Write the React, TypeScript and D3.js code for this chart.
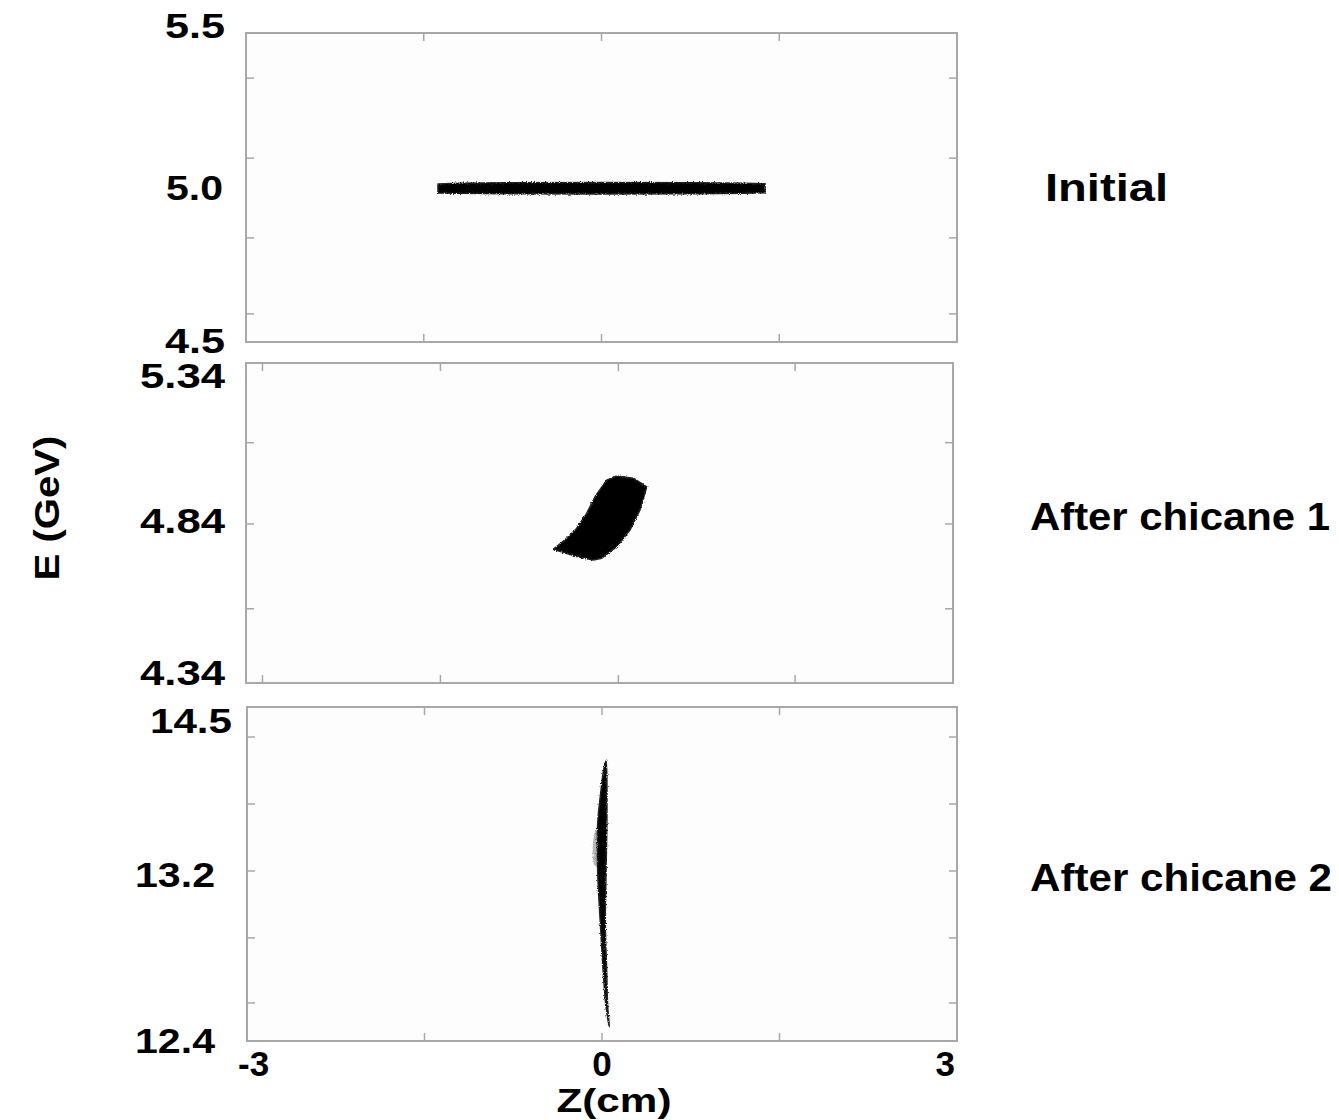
import React from "react";
import * as d3 from "d3";

// ---------- data ----------
const zDomain: [number, number] = [-3, 3];
const zLabelValues = [-3, 0, 3];
const zLabelText = ["-3", "0", "3"];
const panelTitles = ["Initial", "After chicane 1", "After chicane 2"];

// Panel 1 (Initial)
const eDomain1 = [4.5, 5.5];
const eLabelValues1 = [5.5, 5.0, 4.5];
const eLabelText1 = ["5.5", "5.0", "4.5"];
const eTicks1 = [5.354, 5.095, 4.837, 4.591];
const zTicks1 = [-1.5, 0, 1.5];
const beam1: [number, number][] = [
  [-1.38, 5.011], [-1.2, 5.014], [-0.8, 5.015], [0, 5.016], [0.8, 5.015], [1.2, 5.014], [1.38, 5.012],
  [1.38, 4.983], [1.2, 4.981], [0.8, 4.98], [0, 4.979], [-0.8, 4.98], [-1.2, 4.981], [-1.38, 4.982],
];

// Panel 2 (After chicane 1)
const eDomain2 = [4.34, 5.34];
const eLabelValues2 = [5.34, 4.84, 4.34];
const eLabelText2 = ["5.34", "4.84", "4.34"];
const eTicks2 = [5.091, 4.837, 4.572];
const zTicks2 = [-2.86, -1.35, 0.16, 1.66];
const beam2: [number, number][] = [
  [-0.392, 4.758], [-0.208, 4.737], [-0.053, 4.724], [0.019, 4.73], [0.146, 4.766], [0.259, 4.818],
  [0.344, 4.881], [0.401, 4.953], [0.287, 4.98], [0.146, 4.987], [0.061, 4.974], [-0.038, 4.922],
  [-0.109, 4.87], [-0.194, 4.823], [-0.293, 4.787],
];

// Panel 3 (After chicane 2) - piecewise axis as labelled
const eDomain3 = [12.4, 13.2, 14.5];
const eLabelValues3 = [14.5, 13.2, 12.4];
const eLabelText3 = ["14.5", "13.2", "12.4"];
const eTicks3 = [14.262, 13.731, 13.2, 12.885, 12.579];
const zTicks3 = [-3, -1.5, 0, 1.5, 3];
const beam3: [number, number][] = [
  [0.034, 14.074], [0.042, 13.71], [0.034, 13.191], [0.028, 12.955], [0.04, 12.72], [0.048, 12.561],
  [0.062, 12.467], [0.034, 12.561], [0.011, 12.72], [-0.014, 12.955], [-0.036, 13.191], [-0.036, 13.58],
  [-0.008, 13.842], [0.014, 14.001],
];
const halo3: [number, number][] = [
  [-0.03, 13.525], [-0.062, 13.5], [-0.064, 13.25], [-0.03, 13.232],
];

// ---------- layout ----------
const W = 1339;
const H = 1120;
const FONT = "'Liberation Sans', Arial, Helvetica, sans-serif";
const FRAME = "#a8a8a8";

type Panel = {
  box: { x0: number; x1: number; y0: number; y1: number };
  midY?: number;
  eDomain: number[];
  eLabelValues: number[];
  eLabelText: string[];
  eTicks: number[];
  zTicks: number[];
  beam: [number, number][];
  halo?: [number, number][];
  labelX: number[];
  labelDy: number[];
  labelLen: number[];
  title: { x: number; y: number; len: number };
  curve: any;
};

const panels: Panel[] = [
  {
    box: { x0: 246, x1: 957, y0: 33, y1: 342 },
    eDomain: eDomain1, eLabelValues: eLabelValues1, eLabelText: eLabelText1,
    eTicks: eTicks1, zTicks: zTicks1, beam: beam1,
    labelX: [225, 223, 225], labelDy: [-8, 0, -2], labelLen: [60, 57, 60],
    title: { x: 1045, y: 201, len: 123 },
    curve: d3.curveLinearClosed,
  },
  {
    box: { x0: 246, x1: 953, y0: 363, y1: 683 },
    eDomain: eDomain2, eLabelValues: eLabelValues2, eLabelText: eLabelText2,
    eTicks: eTicks2, zTicks: zTicks2, beam: beam2,
    labelX: [225, 225, 225], labelDy: [12, -3, -11], labelLen: [85, 85, 85],
    title: { x: 1030, y: 530, len: 300 },
    curve: d3.curveLinearClosed,
  },
  {
    box: { x0: 247, x1: 957, y0: 707, y1: 1041 },
    midY: 871,
    eDomain: eDomain3, eLabelValues: eLabelValues3, eLabelText: eLabelText3,
    eTicks: eTicks3, zTicks: zTicks3, beam: beam3, halo: halo3,
    labelX: [232, 215, 215], labelDy: [13, 3, -1], labelLen: [82, 80, 80],
    title: { x: 1030, y: 891, len: 302 },
    curve: d3.curveCatmullRomClosed,
  },
];

const LABEL_FS = 35;

function PanelView({ p, idx }: { p: Panel; idx: number }) {
  const { x0, x1, y0, y1 } = p.box;
  const x = d3.scaleLinear().domain(zDomain).range([x0, x1]);
  const yRange = p.eDomain.length === 3 ? [y1, p.midY as number, y0] : [y1, y0];
  const y = d3.scaleLinear().domain(p.eDomain).range(yRange);
  const line = d3
    .line<[number, number]>()
    .x((d) => x(d[0]))
    .y((d) => y(d[1]))
    .curve(p.curve);
  const tickLen = 8;
  return (
    <g>
      <rect x={x0} y={y0} width={x1 - x0} height={y1 - y0} fill="#fdfdfd" stroke={FRAME} strokeWidth={2} />
      {p.eTicks.map((t, i) => (
        <g key={"et" + i} stroke={FRAME} strokeWidth={1.5}>
          <line x1={x0} x2={x0 + tickLen} y1={y(t)} y2={y(t)} />
          <line x1={x1} x2={x1 - tickLen} y1={y(t)} y2={y(t)} />
        </g>
      ))}
      {p.zTicks.map((t, i) => (
        <g key={"zt" + i} stroke={FRAME} strokeWidth={1.5}>
          <line x1={x(t)} x2={x(t)} y1={y0} y2={y0 + tickLen} />
          <line x1={x(t)} x2={x(t)} y1={y1} y2={y1 - tickLen} />
        </g>
      ))}
      {p.halo && (
        <path d={line(p.halo) || ""} fill="#9a9a9a" opacity={0.7} filter="url(#fuzz)" />
      )}
      <path d={line(p.beam) || ""} fill="#000" stroke="#222" strokeWidth={1.5} strokeLinejoin="round" filter="url(#fuzz)" />
      {p.eLabelValues.map((v, i) => (
        <text
          key={"el" + i}
          x={p.labelX[i]}
          y={y(v) + p.labelDy[i] + LABEL_FS * 0.36}
          textAnchor="end"
          fontFamily={FONT}
          fontWeight="bold"
          fontSize={LABEL_FS}
          textLength={p.labelLen[i]}
          lengthAdjust="spacingAndGlyphs"
        >
          {p.eLabelText[i]}
        </text>
      ))}
      <text
        x={p.title.x}
        y={p.title.y}
        fontFamily={FONT}
        fontWeight="bold"
        fontSize={38}
        textLength={p.title.len}
        lengthAdjust="spacingAndGlyphs"
      >
        {panelTitles[idx]}
      </text>
    </g>
  );
}

export default function App() {
  const bottom = panels[2];
  const xb = d3.scaleLinear().domain(zDomain).range([bottom.box.x0, bottom.box.x1]);
  const anchors = ["start", "middle", "end"];
  const dxs = [-9, 0, -2];
  return (
    <div style={{ position: "absolute", left: 0, top: 0, background: "#fff" }}>
      <svg width={W} height={H} viewBox={`0 0 ${W} ${H}`} style={{ display: "block" }}>
        <defs>
          <filter id="fuzz" x="-20%" y="-20%" width="140%" height="140%">
            <feTurbulence type="fractalNoise" baseFrequency="0.9" numOctaves="2" seed="3" result="n" />
            <feDisplacementMap in="SourceGraphic" in2="n" scale="3" xChannelSelector="R" yChannelSelector="G" />
          </filter>
        </defs>
        <rect x={0} y={0} width={W} height={H} fill="#fff" />
        {panels.map((p, i) => (
          <PanelView key={i} p={p} idx={i} />
        ))}
        {zLabelValues.map((v, i) => (
          <text
            key={"zl" + i}
            x={xb(v) + dxs[i]}
            y={1076}
            textAnchor={anchors[i] as any}
            fontFamily={FONT}
            fontWeight="bold"
            fontSize={35}
          >
            {zLabelText[i]}
          </text>
        ))}
        <text
          x={614}
          y={1112}
          textAnchor="middle"
          fontFamily={FONT}
          fontWeight="bold"
          fontSize={34}
          textLength={115}
          lengthAdjust="spacingAndGlyphs"
        >
          Z(cm)
        </text>
        <text
          transform="translate(59,508) rotate(-90)"
          textAnchor="middle"
          fontFamily={FONT}
          fontWeight="bold"
          fontSize={35}
          textLength={145}
          lengthAdjust="spacingAndGlyphs"
        >
          E (GeV)
        </text>
      </svg>
    </div>
  );
}
